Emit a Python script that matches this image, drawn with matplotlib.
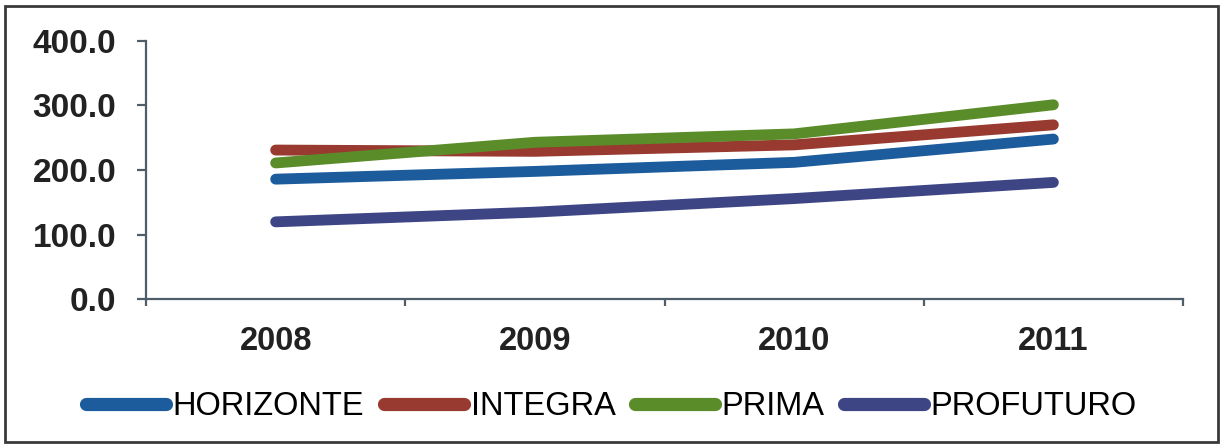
import matplotlib.pyplot as plt
from matplotlib.patches import Rectangle

years = ['2008', '2009', '2010', '2011']
horizonte = [186, 198, 212, 248]
integra = [231, 229, 239, 270]
prima = [211, 243, 256, 301]
profuturo = [120, 135, 156, 181]

series = [('HORIZONTE', horizonte, '#1c5c9c'),
          ('INTEGRA', integra, '#983a30'),
          ('PRIMA', prima, '#5a8c2a'),
          ('PROFUTURO', profuturo, '#3e4585')]

plt.rcParams['font.family'] = ['Liberation Sans', 'DejaVu Sans']

fig = plt.figure(figsize=(12.23, 4.46), dpi=100)
ax = fig.add_axes([0.1194, 0.3285, 0.8479, 0.5802])

x = range(len(years))
for name, vals, col in series:
    ax.plot(x, vals, color=col, lw=7.8, solid_capstyle='round', label=name)

ax.set_xlim(-0.5, len(years) - 0.5)
ax.set_ylim(0, 400)
ax.set_yticks([0, 100, 200, 300, 400])
ax.set_yticklabels(['%.1f' % v for v in [0, 100, 200, 300, 400]],
                   fontsize=24, fontweight='bold', color='#222222')
ax.set_xticks(list(x))
ax.set_xticklabels(years, fontsize=23.5, fontweight='bold', color='#222222')
ax.set_xticks([i - 0.5 for i in range(len(years) + 1)], minor=True)

spine_col = '#4f5d68'
for s in ['top', 'right']:
    ax.spines[s].set_visible(False)
for s in ['left', 'bottom']:
    ax.spines[s].set_color(spine_col)
    ax.spines[s].set_linewidth(1.6)
ax.tick_params(axis='y', length=6.5, width=1.6, color=spine_col, pad=15)
ax.tick_params(axis='x', which='major', length=0, pad=19)
ax.tick_params(axis='x', which='minor', length=5, width=1.6, color=spine_col)

leg = ax.legend(loc='center', bbox_to_anchor=(0.5, 0.088), bbox_transform=fig.transFigure,
                ncol=4, frameon=False, fontsize=23.5, handlelength=2.45,
                handletextpad=0.2, columnspacing=0.6)
for h in leg.get_lines():
    h.set_linewidth(9.5)
    h.set_solid_capstyle('round')

fig.patches.append(Rectangle((0.004, 0.008), 0.992, 0.978, transform=fig.transFigure,
                             fill=False, edgecolor='#3a3a3a', lw=2))

plt.savefig('out.png', dpi=100)
plt.close()
